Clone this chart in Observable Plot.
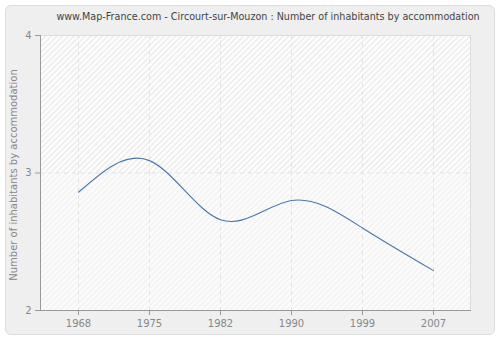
<!DOCTYPE html>
<html>
<head>
<meta charset="utf-8">
<script src="https://cdn.jsdelivr.net/npm/d3@7"></script>
<script src="https://cdn.jsdelivr.net/npm/@observablehq/plot@0.6"></script>
<style>
  html, body { margin: 0; padding: 0; background: #ffffff; }
  #wrap { position: relative; width: 500px; height: 340px; overflow: hidden; font-family: "DejaVu Sans", sans-serif; }
  #panel { position: absolute; left: 5px; top: 5px; width: 488px; height: 328px; background: #efefef; border: 1px solid #dcdcdc; border-radius: 6px; }
  #title { position: absolute; left: 0; top: 11px; width: 500px; text-align: center; font-size: 9.6px; color: #444; padding-left: 36px; box-sizing: border-box; white-space: nowrap; }
  #chart { position: absolute; left: 0; top: 28px; }
  #ylabel { position: absolute; left: 13px; top: 175px; transform: translate(-50%, -50%) rotate(-90deg); font-size: 10px; color: #888; white-space: nowrap; }
</style>
</head>
<body>
<div id="wrap">
  <div id="panel"></div>
  <div id="title">www.Map-France.com - Circourt-sur-Mouzon : Number of inhabitants by accommodation</div>
  <div id="ylabel">Number of inhabitants by accommodation</div>
  <div id="chart"></div>
</div>
<script>
const years = [1968, 1975, 1982, 1990, 1999, 2007];
const values = [2.86, 3.09, 2.66, 2.80, 2.60, 2.29];
const yTicks = [2, 3, 4];
const gridY = [3, 4];
const bandLow = [2, 3];
const bandHigh = [3, 4];
const bands = [
  {y1: bandLow[0], y2: bandLow[1], pattern: "url(#hatchLow)"},
  {y1: bandHigh[0], y2: bandHigh[1], pattern: "url(#hatchHigh)"}
];

const data = years.map((y, i) => ({year: y, value: values[i]}));

const chart = Plot.plot({
  width: 500,
  height: 312,
  marginLeft: 40,
  marginRight: 30,
  marginTop: 7,
  marginBottom: 30,
  style: {background: "transparent", fontFamily: "DejaVu Sans, sans-serif", fontSize: "10px", color: "#888"},
  x: {type: "point", domain: years, padding: 0.49, label: null},
  y: {domain: [2, 4], label: null},
  color: {type: "identity"},
  marks: [
    Plot.rectY(bands, {y1: "y1", y2: "y2", fill: "pattern"}),
    Plot.ruleX(years, {stroke: "#e2e2e2", strokeDasharray: "4,4", strokeWidth: 1}),
    Plot.ruleY(gridY, {stroke: "#e2e2e2", strokeDasharray: "4,4", strokeWidth: 1}),
    Plot.frame({stroke: "#dddddd"}),
    Plot.frame({anchor: "left", stroke: "#999"}),
    Plot.frame({anchor: "bottom", stroke: "#999"}),
    Plot.axisY({ticks: yTicks, tickSize: 5, tickFormat: d3.format("d"), stroke: "#999", fill: "#888", tickPadding: 4}),
    Plot.axisX({tickSize: 5, tickFormat: d3.format("d"), stroke: "#999", fill: "#888", tickPadding: 4}),
    Plot.line(data, {x: "year", y: "value", curve: "natural", stroke: "#4a77ab", strokeWidth: 1.1})
  ]
});

const svg = d3.select(chart);
const defs = svg.insert("defs", ":first-child");
function hatch(id, bg, fg) {
  const p = defs.append("pattern").attr("id", id).attr("patternUnits", "userSpaceOnUse")
    .attr("width", 4).attr("height", 4).attr("patternTransform", "rotate(45)");
  p.append("rect").attr("width", 4).attr("height", 4).attr("fill", bg);
  p.append("rect").attr("x", 1.3).attr("y", 0).attr("width", 1.4).attr("height", 4).attr("fill", fg);
}
hatch("hatchLow", "#fcfcfc", "#f1f1f1");
hatch("hatchHigh", "#ffffff", "#e9e9e9");
document.getElementById("chart").appendChild(chart);
</script>
</body>
</html>
